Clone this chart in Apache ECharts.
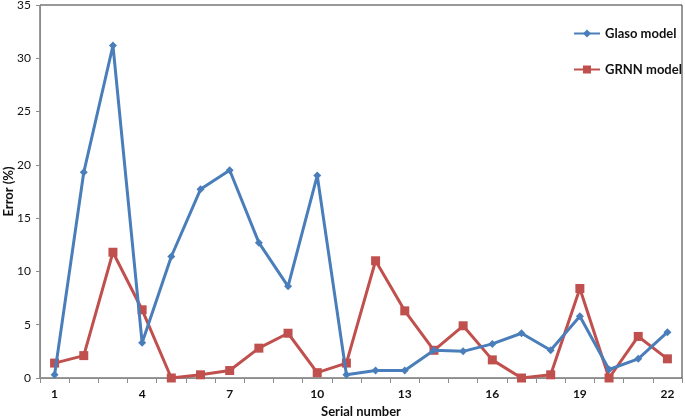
<!DOCTYPE html>
<html>
<head>
<meta charset="utf-8">
<script src="https://cdn.jsdelivr.net/npm/echarts@6/dist/echarts.min.js"></script>
<style>
  html, body { margin: 0; padding: 0; background: #fff; }
  #main { width: 685px; height: 420px; }
</style>
</head>
<body>
<div id="main"></div>
<script>
// serial numbers 1..22
const serials = ['1','2','3','4','5','6','7','8','9','10','11','12','13','14','15','16','17','18','19','20','21','22'];
const glasoError = [0.3, 19.3, 31.2, 3.3, 11.4, 17.7, 19.5, 12.7, 8.6, 19.0, 0.3, 0.7, 0.7, 2.6, 2.5, 3.2, 4.2, 2.6, 5.8, 0.8, 1.8, 4.3];
const grnnError = [1.4, 2.1, 11.8, 6.4, 0.0, 0.3, 0.7, 2.8, 4.2, 0.5, 1.4, 11.0, 6.3, 2.6, 4.9, 1.7, 0.0, 0.3, 8.4, 0.0, 3.9, 1.8];
const yTicks = [0, 5, 10, 15, 20, 25, 30, 35];

let axisColor = '#8c8c8c';
let fontName = 'Lato';
let myChart = echarts.init(document.getElementById('main'));

let option = {
  backgroundColor: '#fff',
  textStyle: { fontFamily: fontName },
  grid: {
    left: 40,
    right: 3,
    top: 5,
    bottom: 42,
    outerBoundsMode: 'none',
    containLabel: false,
    show: true,
    borderColor: '#333',
    borderWidth: 1
  },
  legend: {
    orient: 'vertical',
    left: 568,
    top: 22,
    itemGap: 23,
    itemWidth: 26,
    itemHeight: 10,
    textStyle: { fontFamily: fontName, fontWeight: 'bold', fontSize: 13, color: '#111' },
    data: ['Glaso model', 'GRNN model']
  },
  xAxis: {
    type: 'category',
    data: serials,
    boundaryGap: true,
    name: 'Serial number',
    nameLocation: 'middle',
    nameGap: 27,
    nameMoveOverlap: false,
    nameTextStyle: { fontFamily: fontName, fontWeight: 'bold', fontSize: 13, color: '#111' },
    axisLine: { lineStyle: { color: axisColor, width: 1 } },
    axisTick: { show: true, interval: 0, length: 5, lineStyle: { color: axisColor } },
    axisLabel: {
      interval: 2,
      margin: 10,
      fontSize: 12,
      fontWeight: 'bold',
      color: '#111'
    },
    splitLine: { show: false }
  },
  yAxis: {
    type: 'value',
    min: yTicks[0],
    max: yTicks[yTicks.length - 1],
    interval: 5,
    name: 'Error (%)',
    nameLocation: 'middle',
    nameGap: 25,
    nameMoveOverlap: false,
    nameTextStyle: { fontFamily: fontName, fontWeight: 'bold', fontSize: 13, color: '#111' },
    axisLine: { show: true, lineStyle: { color: axisColor, width: 1 } },
    axisTick: { show: true, length: 4, lineStyle: { color: axisColor } },
    axisLabel: { margin: 9, fontSize: 12, color: '#111' },
    splitLine: { show: false }
  },
  series: [
    {
      name: 'Glaso model',
      type: 'line',
      data: glasoError,
      symbol: 'diamond',
      symbolSize: 8,
      lineStyle: { color: '#4a7ebb', width: 3 },
      itemStyle: { color: '#4a7ebb' },
      z: 3
    },
    {
      name: 'GRNN model',
      type: 'line',
      data: grnnError,
      symbol: 'rect',
      symbolSize: 9,
      lineStyle: { color: '#c0504d', width: 3 },
      itemStyle: { color: '#c0504d' },
      z: 2
    }
  ]
};

myChart.setOption(option);
</script>
</body>
</html>
